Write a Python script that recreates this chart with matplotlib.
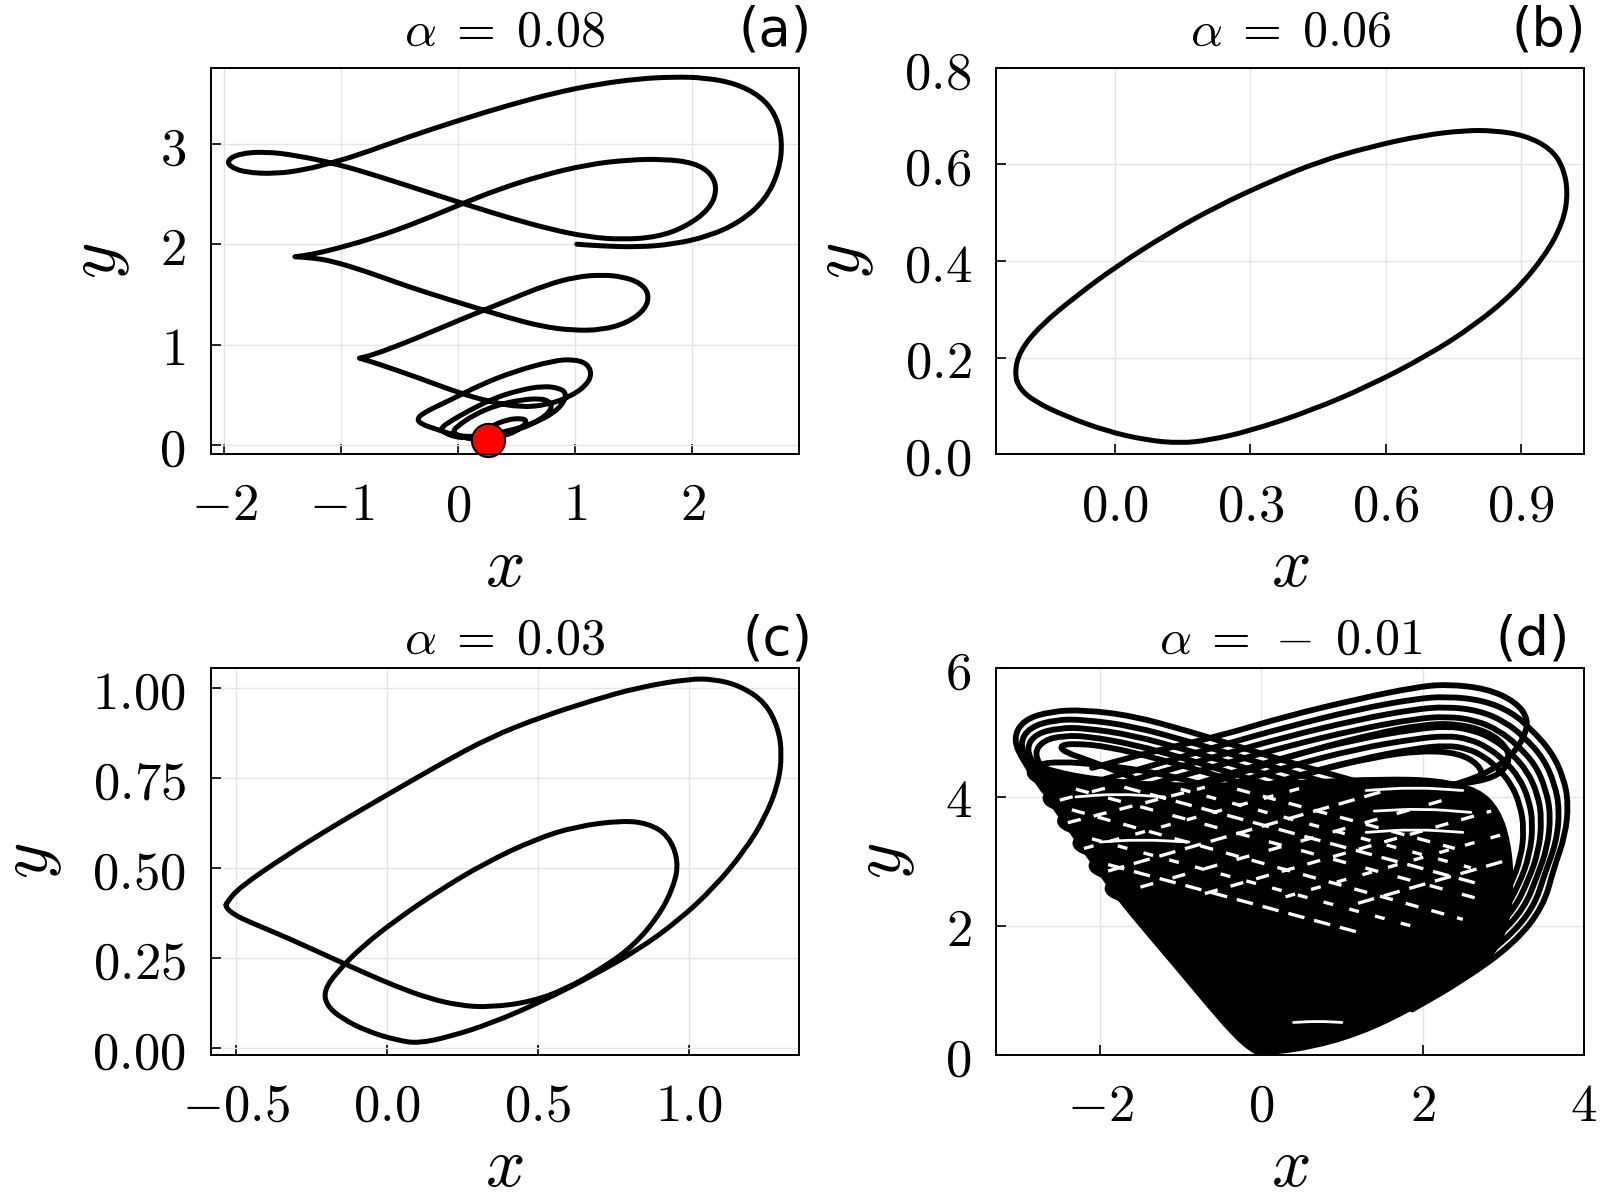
import numpy as np
import matplotlib.pyplot as plt
from matplotlib.path import Path
from matplotlib.patches import PathPatch

plt.rcParams["mathtext.fontset"] = "cm"
plt.rcParams["font.family"] = "DejaVu Sans"

# ---------------- data ----------------
# (a) alpha = 0.08 : transient spiralling into the fixed point
a_path = [
    (1.012, 2.001), (1.230, 1.983), (1.535, 1.972), (1.840, 2.001), (2.146, 2.083),
    (2.407, 2.223), (2.625, 2.445), (2.743, 2.740), (2.769, 3.035), (2.713, 3.294),
    (2.582, 3.479), (2.364, 3.608), (2.102, 3.663), (1.840, 3.671), (1.535, 3.652),
    (1.186, 3.597), (0.837, 3.515), (0.445, 3.394), (0.009, 3.239), (-0.427, 3.072),
    (-0.864, 2.888), (-1.082, 2.814), (-1.300, 2.747), (-1.561, 2.703), (-1.823, 2.718),
    (-1.954, 2.777), (-1.971, 2.843), (-1.867, 2.906), (-1.648, 2.925), (-1.387, 2.888),
    (-1.038, 2.803), (-0.645, 2.666), (-0.209, 2.500), (0.140, 2.371), (0.445, 2.260),
    (0.794, 2.149), (1.099, 2.075), (1.404, 2.046), (1.710, 2.075), (1.949, 2.179),
    (2.146, 2.352), (2.211, 2.537), (2.167, 2.703), (2.015, 2.814), (1.753, 2.851),
    (1.448, 2.843), (1.099, 2.795), (0.707, 2.685), (0.358, 2.555), (0.052, 2.415),
    (-0.340, 2.223), (-0.689, 2.075), (-1.038, 1.957), (-1.256, 1.898), (-1.396, 1.876),
    (-1.396, 1.876), (-1.256, 1.865), (-1.082, 1.835), (-0.776, 1.725), (-0.427, 1.577),
    (-0.078, 1.448), (0.183, 1.355), (0.445, 1.263), (0.707, 1.182), (0.968, 1.141),
    (1.230, 1.145), (1.448, 1.219), (1.601, 1.355), (1.631, 1.503), (1.557, 1.614),
    (1.404, 1.677), (1.230, 1.695), (1.012, 1.677), (0.750, 1.595), (0.401, 1.429),
    (0.009, 1.244), (-0.340, 1.071), (-0.645, 0.931), (-0.798, 0.875), (-0.845, 0.864),
    (-0.845, 0.864), (-0.750, 0.830), (-0.668, 0.800), (-0.326, 0.662), (0.015, 0.513),
    (0.272, 0.429), (0.528, 0.373), (0.756, 0.396), (0.956, 0.479), (1.098, 0.596),
    (1.141, 0.712), (1.098, 0.812), (0.984, 0.852), (0.813, 0.839), (0.471, 0.729),
    (0.186, 0.596), (-0.098, 0.429), (-0.298, 0.319), (-0.355, 0.253), (-0.312, 0.203),
    (-0.184, 0.153), (-0.013, 0.087), (0.158, 0.080), (0.414, 0.130), (0.642, 0.213),
    (0.813, 0.313), (0.907, 0.429), (0.921, 0.513), (0.870, 0.563), (0.727, 0.586),
    (0.528, 0.546), (0.300, 0.463), (0.073, 0.329), (-0.098, 0.213), (-0.150, 0.160),
    (-0.113, 0.113), (0.015, 0.064), (0.272, 0.074), (0.528, 0.153), (0.699, 0.246),
    (0.800, 0.353), (0.785, 0.429), (0.699, 0.463), (0.528, 0.446), (0.329, 0.396),
    (0.129, 0.296), (-0.013, 0.180), (-0.047, 0.130), (0.000, 0.087), (0.129, 0.054),
    (0.414, 0.087), (0.556, 0.180), (0.585, 0.240), (0.543, 0.263), (0.420, 0.253),
    (0.272, 0.180), (0.158, 0.100), (0.186, 0.050), (0.250, 0.047),
]
a_fixed_point = (0.25, 0.047)

# (b) alpha = 0.06 : limit cycle
b_path = [
    (-0.223, 0.167), (-0.212, 0.213), (-0.166, 0.266), (-0.087, 0.327), (0.003, 0.389),
    (0.117, 0.457), (0.230, 0.515), (0.343, 0.564), (0.456, 0.607), (0.569, 0.637),
    (0.683, 0.660), (0.773, 0.670), (0.841, 0.670), (0.909, 0.660), (0.966, 0.633),
    (0.994, 0.595), (1.005, 0.541), (0.994, 0.480), (0.954, 0.411), (0.886, 0.335),
    (0.796, 0.266), (0.694, 0.205), (0.569, 0.144), (0.434, 0.090), (0.298, 0.048),
    (0.207, 0.029), (0.145, 0.023), (0.071, 0.029), (-0.019, 0.048), (-0.110, 0.079),
    (-0.178, 0.109), (-0.212, 0.136),
]

# (c) alpha = 0.03 : period-two cycle
c_path = [
    (-0.529, 0.406), (-0.487, 0.447), (-0.335, 0.534), (-0.166, 0.622), (0.003, 0.704),
    (0.172, 0.786), (0.342, 0.863), (0.511, 0.919), (0.680, 0.965), (0.832, 1.001),
    (1.001, 1.025), (1.085, 1.024), (1.170, 1.006), (1.254, 0.960), (1.297, 0.888),
    (1.309, 0.816), (1.297, 0.734), (1.254, 0.642), (1.187, 0.550), (1.085, 0.447),
    (0.967, 0.355), (0.832, 0.273), (0.680, 0.201), (0.511, 0.129), (0.342, 0.068),
    (0.206, 0.032), (0.105, 0.014), (0.037, 0.022), (-0.064, 0.047), (-0.149, 0.083),
    (-0.199, 0.119), (-0.208, 0.160), (-0.166, 0.211), (-0.081, 0.283), (0.037, 0.360),
    (0.172, 0.437), (0.325, 0.514), (0.494, 0.581), (0.629, 0.616), (0.781, 0.632),
    (0.866, 0.624), (0.933, 0.591), (0.967, 0.519), (0.950, 0.447), (0.899, 0.365),
    (0.815, 0.283), (0.713, 0.222), (0.595, 0.165), (0.477, 0.129), (0.342, 0.114),
    (0.240, 0.119), (0.139, 0.139), (0.037, 0.170), (-0.064, 0.206), (-0.199, 0.257),
    (-0.335, 0.309), (-0.453, 0.350), (-0.504, 0.370), (-0.535, 0.392),
]

# (d) alpha = -0.01 : chaotic attractor
# solid black body of the attractor
d_mass = [
    (0.0, 0.0), (0.6, 0.09), (1.24, 0.32), (1.87, 0.70), (2.51, 1.16), (2.9, 1.55),
    (3.08, 2.1), (3.12, 2.7), (3.08, 3.3), (2.95, 3.8), (2.7, 4.12), (2.2, 4.28),
    (1.5, 4.3), (0.6, 4.25), (-0.3, 4.2), (-1.2, 4.2), (-2.0, 4.28), (-2.6, 4.42),
    (-2.9, 4.58), (-2.75, 4.15), (-2.45, 3.6), (-2.12, 3.02), (-1.8, 2.45),
    (-1.42, 1.88), (-1.04, 1.32), (-0.66, 0.75), (-0.34, 0.29), (-0.12, 0.05),
]
# loops through the right lobe, most of them running down the right flank
d_right_loops = [
    [(-2.1, 4.45), (-1.3, 4.72), (-0.5, 4.95), (0.3, 5.25), (1.2, 5.52), (1.9, 5.7), (2.3, 5.75),
     (2.8, 5.68), (3.15, 5.48), (3.31, 5.22), (3.27, 4.95), (3.12, 4.66), (2.85, 4.4), (2.4, 4.18),
     (1.8, 4.03), (1.1, 3.95), (0.4, 3.9)],
    [(-2.3, 4.15), (-1.4, 4.47), (-0.5, 4.8), (0.3, 5.08), (1.2, 5.36), (1.9, 5.52), (2.3, 5.56),
     (2.75, 5.5), (3.1, 5.32), (3.35, 5.05), (3.6, 4.7), (3.75, 4.3), (3.81, 3.9), (3.77, 3.4),
     (3.63, 2.9), (3.5, 2.3), (3.14, 1.73), (2.51, 1.16), (1.87, 0.70)],
    [(-2.35, 4.0), (-1.4, 4.33), (-0.5, 4.65), (0.3, 4.93), (1.2, 5.2), (1.9, 5.36), (2.3, 5.4),
     (2.7, 5.34), (3.02, 5.17), (3.27, 4.92), (3.5, 4.6), (3.64, 4.2), (3.7, 3.8), (3.66, 3.3),
     (3.52, 2.82), (3.38, 2.28), (3.03, 1.77), (2.45, 1.25), (1.9, 0.85)],
    [(-2.4, 3.85), (-1.4, 4.18), (-0.5, 4.5), (0.3, 4.78), (1.2, 5.05), (1.9, 5.21), (2.3, 5.25),
     (2.66, 5.19), (2.95, 5.03), (3.18, 4.8), (3.4, 4.5), (3.53, 4.12), (3.59, 3.72), (3.55, 3.22),
     (3.42, 2.76), (3.26, 2.27), (2.93, 1.82), (2.4, 1.35), (1.9, 1.0)],
    [(-2.3, 3.6), (-1.4, 3.98), (-0.5, 4.32), (0.3, 4.62), (1.2, 4.9), (1.9, 5.05), (2.3, 5.1),
     (2.62, 5.04), (2.88, 4.9), (3.1, 4.68), (3.3, 4.4), (3.43, 4.04), (3.48, 3.65), (3.44, 3.15),
     (3.31, 2.7), (3.14, 2.26), (2.83, 1.85), (2.35, 1.45), (1.9, 1.15)],
    [(-2.2, 3.4), (-1.4, 3.78), (-0.5, 4.15), (0.3, 4.46), (1.2, 4.75), (1.9, 4.9), (2.3, 4.95),
     (2.58, 4.9), (2.82, 4.76), (3.02, 4.56), (3.2, 4.3), (3.32, 3.96), (3.37, 3.58), (3.33, 3.1),
     (3.2, 2.65), (3.02, 2.24), (2.72, 1.88), (2.3, 1.55), (1.9, 1.3)],
    [(-2.1, 3.2), (-1.4, 3.55), (-0.5, 3.95), (0.3, 4.28), (1.2, 4.58), (1.9, 4.75), (2.3, 4.8),
     (2.56, 4.75), (2.76, 4.63), (2.94, 4.44), (3.1, 4.2), (3.21, 3.88), (3.26, 3.5), (3.22, 3.05),
     (3.09, 2.62), (2.91, 2.24), (2.62, 1.92), (2.25, 1.65), (1.9, 1.45)],
    [(-1.8, 3.7), (-1.0, 4.05), (-0.2, 4.4), (0.6, 4.72), (1.4, 4.98), (2.0, 5.12), (2.4, 5.14),
     (2.8, 5.02), (3.05, 4.78), (3.08, 4.52), (2.9, 4.3), (2.5, 4.2), (1.9, 4.15), (1.2, 4.12)],
    [(-1.9, 3.3), (-1.0, 3.7), (-0.2, 4.05), (0.6, 4.38), (1.4, 4.62), (2.0, 4.72), (2.45, 4.68),
     (2.7, 4.5), (2.75, 4.3)],
]
# loops through the left lobe and the scalloped left flank
d_left_loops = [
    [(-2.7, 4.1), (-2.95, 4.55), (-3.08, 4.9), (-2.95, 5.2), (-2.6, 5.33), (-2.2, 5.35), (-1.6, 5.26),
     (-0.9, 5.02), (-0.2, 4.75), (0.5, 4.48), (1.3, 4.2), (2.0, 3.95), (2.6, 3.75)],
    [(-2.6, 4.1), (-2.88, 4.5), (-3.0, 4.82), (-2.88, 5.08), (-2.55, 5.2), (-2.2, 5.2), (-1.6, 5.1),
     (-0.9, 4.86), (-0.2, 4.6), (0.5, 4.33), (1.3, 4.05), (2.0, 3.8), (2.6, 3.6)],
    [(-2.5, 4.05), (-2.8, 4.45), (-2.92, 4.75), (-2.8, 4.98), (-2.5, 5.07), (-2.2, 5.07), (-1.6, 4.96),
     (-0.9, 4.72), (-0.2, 4.45), (0.5, 4.18), (1.3, 3.9), (2.0, 3.65)],
    [(-2.4, 4.0), (-2.7, 4.4), (-2.82, 4.68), (-2.7, 4.88), (-2.45, 4.95), (-2.15, 4.94), (-1.6, 4.82),
     (-0.9, 4.58), (-0.2, 4.3), (0.5, 4.03), (1.3, 3.75)],
    [(-1.6, 4.3), (-2.1, 4.55), (-2.45, 4.7), (-2.5, 4.8), (-2.3, 4.83), (-1.9, 4.78), (-1.3, 4.6),
     (-0.6, 4.35), (0.1, 4.08)],
    [(-2.5, 4.1), (-2.8, 4.25), (-2.9, 4.38), (-2.8, 4.5), (-2.5, 4.55), (-2.0, 4.5), (-1.3, 4.38),
     (-0.6, 4.15)],
    [(-2.3, 3.75), (-2.6, 3.85), (-2.7, 3.97), (-2.62, 4.1), (-2.3, 4.15), (-1.8, 4.08)],
    [(-2.15, 3.4), (-2.42, 3.5), (-2.52, 3.62), (-2.44, 3.75), (-2.1, 3.8), (-1.6, 3.72)],
    [(-1.95, 3.05), (-2.22, 3.15), (-2.33, 3.27), (-2.25, 3.4), (-1.9, 3.45), (-1.4, 3.38)],
    [(-1.75, 2.7), (-2.02, 2.8), (-2.13, 2.92), (-2.05, 3.05), (-1.7, 3.1), (-1.2, 3.02)],
    [(-1.55, 2.35), (-1.83, 2.45), (-1.93, 2.57), (-1.85, 2.7), (-1.5, 2.74), (-1.0, 2.66)],
]
# white gaps left between strands inside the body
d_gaps_down = [
    [(-0.3, 4.12), (2.4, 3.2)],
    [(-1.0, 4.12), (2.6, 2.9)],
    [(-1.7, 4.15), (2.7, 2.65)],
    [(-2.3, 4.12), (2.75, 2.4)],
    [(-2.35, 3.8), (2.5, 2.1)],
    [(-2.1, 3.35), (2.0, 1.95)],
    [(-1.9, 2.95), (1.2, 1.9)],
]
d_gaps_up = [
    [(-2.5, 3.95), (-1.8, 4.18)],
    [(-2.4, 3.6), (-0.7, 4.15)],
    [(-2.2, 3.2), (0.5, 4.14)],
    [(-1.9, 2.85), (1.6, 4.12)],
    [(-1.5, 2.6), (2.4, 4.0)],
    [(-0.7, 2.5), (2.85, 3.78)],
    [(0.3, 2.45), (3.0, 3.42)],
    [(1.2, 2.35), (3.0, 3.0)],
]
d_lenses = [
    [(1.3, 4.1), (1.9, 4.15), (2.5, 4.1)],
    [(1.4, 3.78), (2.0, 3.82), (2.6, 3.76)],
    [(1.3, 3.45), (1.9, 3.5), (2.5, 3.45)],
    [(-2.3, 4.0), (-1.8, 4.05), (-1.2, 4.0)],
    [(-2.0, 3.3), (-1.5, 3.34), (-0.9, 3.3)],
    [(0.4, 0.5), (0.7, 0.52), (1.0, 0.5)],
]

# axes settings per panel
titles = [r"$\alpha\;=\;0.08$", r"$\alpha\;=\;0.06$", r"$\alpha\;=\;0.03$",
          r"$\alpha\;=\,-\;0.01$"]
tags = ["(a)", "(b)", "(c)", "(d)"]
tag_x = [1.023, 1.003, 1.023, 0.976]
title_y = [1.057, 1.057, 1.036, 1.036]
xlims = [(-2.115, 2.907), (-0.263, 1.041), (-0.583, 1.364), (-3.285, 4.007)]
ylims = [(-0.096, 3.763), (0.0, 0.8), (-0.0175, 1.055), (0.0, 6.0)]
xticks = [[-2, -1, 0, 1, 2], [0.0, 0.3, 0.6, 0.9], [-0.5, 0.0, 0.5, 1.0], [-2, 0, 2, 4]]
xticklabels = [["-2", "-1", "0", "1", "2"], ["0.0", "0.3", "0.6", "0.9"],
               ["-0.5", "0.0", "0.5", "1.0"], ["-2", "0", "2", "4"]]
yticks = [[0, 1, 2, 3], [0.0, 0.2, 0.4, 0.6, 0.8], [0.0, 0.25, 0.5, 0.75, 1.0], [0, 2, 4, 6]]
yticklabels = [["0", "1", "2", "3"], ["0.0", "0.2", "0.4", "0.6", "0.8"],
               ["0.00", "0.25", "0.50", "0.75", "1.00"], ["0", "2", "4", "6"]]

# axes boxes in figure fractions (1600 x 1200 canvas)
boxes = [
    [0.1317, 0.6214, 0.3674, 0.3222],
    [0.6228, 0.6214, 0.3674, 0.3222],
    [0.1317, 0.1211, 0.3674, 0.3222],
    [0.6228, 0.1211, 0.3674, 0.3222],
]


def smooth(pts, closed=False):
    # quadratic bezier through the traced points, so the curve has no corners
    p = np.asarray(pts, float)
    if closed:
        mids = (p + np.roll(p, -1, axis=0)) / 2
        verts = [mids[-1]]
        codes = [Path.MOVETO]
        for i in range(len(p)):
            verts += [p[i], mids[i]]
            codes += [Path.CURVE3, Path.CURVE3]
        return Path(verts, codes)
    mids = (p[:-1] + p[1:]) / 2
    verts = [p[0], mids[0]]
    codes = [Path.MOVETO, Path.LINETO]
    for i in range(1, len(p) - 1):
        verts += [p[i], mids[i]]
        codes += [Path.CURVE3, Path.CURVE3]
    verts.append(p[-1])
    codes.append(Path.LINETO)
    return Path(verts, codes)


def curve(ax, pts, closed=False, color="black", lw=1.8, z=3):
    ax.add_patch(PathPatch(smooth(pts, closed), fill=False, edgecolor=color, lw=lw,
                           joinstyle="round", capstyle="round", zorder=z))


fig = plt.figure(figsize=(8, 6), dpi=200)
axes = [fig.add_axes(b) for b in boxes]

# (a)
curve(axes[0], a_path)
axes[0].plot(*a_fixed_point, "o", ms=12, mfc="red", mec="black", mew=0.7, zorder=4,
             clip_on=False)

# (b), (c)
curve(axes[1], b_path, closed=True)
curve(axes[2], c_path, closed=True)

# (d)
ax = axes[3]
ax.add_patch(PathPatch(smooth(d_mass, closed=True), facecolor="black", edgecolor="black",
                       lw=1.0, zorder=3))
for loop in d_right_loops + d_left_loops:
    curve(ax, loop, lw=2.1)
dash_styles = [(4, 4), (3, 5), (5, 3), (4, 6)]
for k, g in enumerate(d_gaps_down + d_gaps_up):
    gx, gy = np.array(g).T
    ax.plot(gx, gy, color="white", lw=1.2, dashes=dash_styles[k % 4],
            solid_capstyle="butt", zorder=4)
for g in d_lenses:
    curve(ax, g, color="white", lw=1.0, z=4)

for i, ax in enumerate(axes):
    ax.set_xlim(xlims[i])
    ax.set_ylim(ylims[i])
    ax.set_xticks(xticks[i], [f"${s}$" for s in xticklabels[i]])
    ax.set_yticks(yticks[i], [f"${s}$" for s in yticklabels[i]])
    ax.tick_params(direction="in", length=3.6, width=0.6, labelsize=19, pad=9,
                   top=False, right=False)
    ax.grid(True, color="#e4e4e4", lw=0.5)
    ax.set_axisbelow(True)
    for s in ax.spines.values():
        s.set_linewidth(0.7)
        s.set_zorder(5)
    ax.set_xlabel("$x$", fontsize=25, labelpad=0.5)
    ax.set_ylabel("$y$", fontsize=25, labelpad=10)
    ax.text(0.5, title_y[i], titles[i], transform=ax.transAxes, ha="center",
            va="baseline", fontsize=18)
    ax.text(tag_x[i], title_y[i], tags[i], transform=ax.transAxes, ha="right",
            va="baseline", fontsize=19)

fig.savefig("out.png", dpi=200)
